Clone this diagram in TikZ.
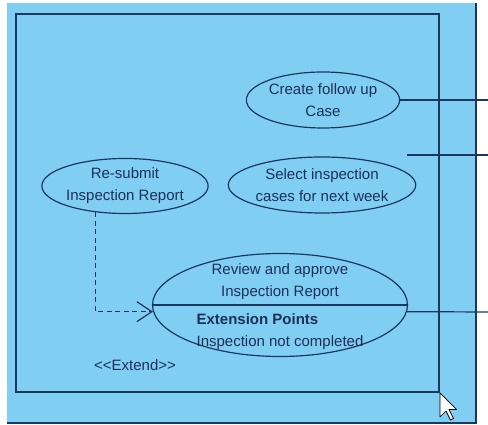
\documentclass[tikz,border=0pt]{standalone}
\usepackage{fontspec}
\setmainfont{Liberation Sans}
\usepackage{xcolor}
\usetikzlibrary{arrows.meta,positioning,shapes.geometric}
\definecolor{sysblue}{RGB}{128,206,242}
\definecolor{umlline}{RGB}{28,55,95}
\definecolor{umltext}{RGB}{30,48,88}

\begin{document}
\begin{tikzpicture}[
  x=1pt, y=1pt,
  font=\fontsize{15}{22}\selectfont,
  usecase/.style={draw=umlline, ellipse, line width=1.2pt, align=center, inner sep=0pt, text=umltext},
  label/.style={text=umltext, inner sep=0pt, align=center},
  assoc/.style={draw=umlline, line width=1.2pt},
  extendarr/.style={draw=umlline, line width=1.2pt, dash pattern=on 5pt off 3.5pt, -{Straight Barb[length=15pt, width=20pt, line width=1.2pt]}}
]
\useasboundingbox (0,0) rectangle (488,425);
% frame and system boundary
\fill[sysblue] (7,2) rectangle (476,422);
\draw[umlline, line width=1.3pt] (476,422) -- (476,2) -- (7,2);
\draw[umlline, line width=1.5pt] (16,33) rectangle (439,411);
% use cases
\node[usecase, minimum width=143pt, minimum height=56pt] (followup) at (323,325) {Create follow up\\Case};
\node[usecase, minimum width=144pt, minimum height=55pt] (resubmit) at (125,239) {Re-submit\\Inspection Report};
\node[usecase, minimum width=170pt, minimum height=56pt] (select) at (322,240) {Select inspection\\cases for next week};
\node[usecase, minimum width=255pt, minimum height=103pt] (review) at (280,120) {};
\node[label, above=5pt of review.center] (reviewname) {Review and approve\\Inspection Report};
\node[label, below=8pt of review.center, align=left] (extpoints) {\textbf{Extension Points}\\Inspection not completed};
\draw[assoc] (review.west) -- (review.east);
% connectors leaving the boundary
\coordinate (edgeA) at (488,325);
\coordinate (edgeB) at (488,270);
\coordinate (startB) at (407,270);
\coordinate (edgeC) at (488,113);
\draw[assoc] (followup.east) -- (edgeA);
\draw[assoc] (startB) -- (edgeB);
\draw[assoc] (review.-3) -- (edgeC);
% extend relationship
\draw[extendarr] (resubmit.222) |- (review.183);
\node[label] (extendlbl) at (135,60) {<{}<Extend>{}>};
% mouse pointer
\draw[black, fill=white, line width=0.7pt, line join=round] (440,32) -- ++(0,-24) -- ++(6,6) -- ++(4.5,-9) -- ++(3,1.5) -- ++(-4.5,9) -- ++(7.5,0) -- cycle;
\end{tikzpicture}
\end{document}
